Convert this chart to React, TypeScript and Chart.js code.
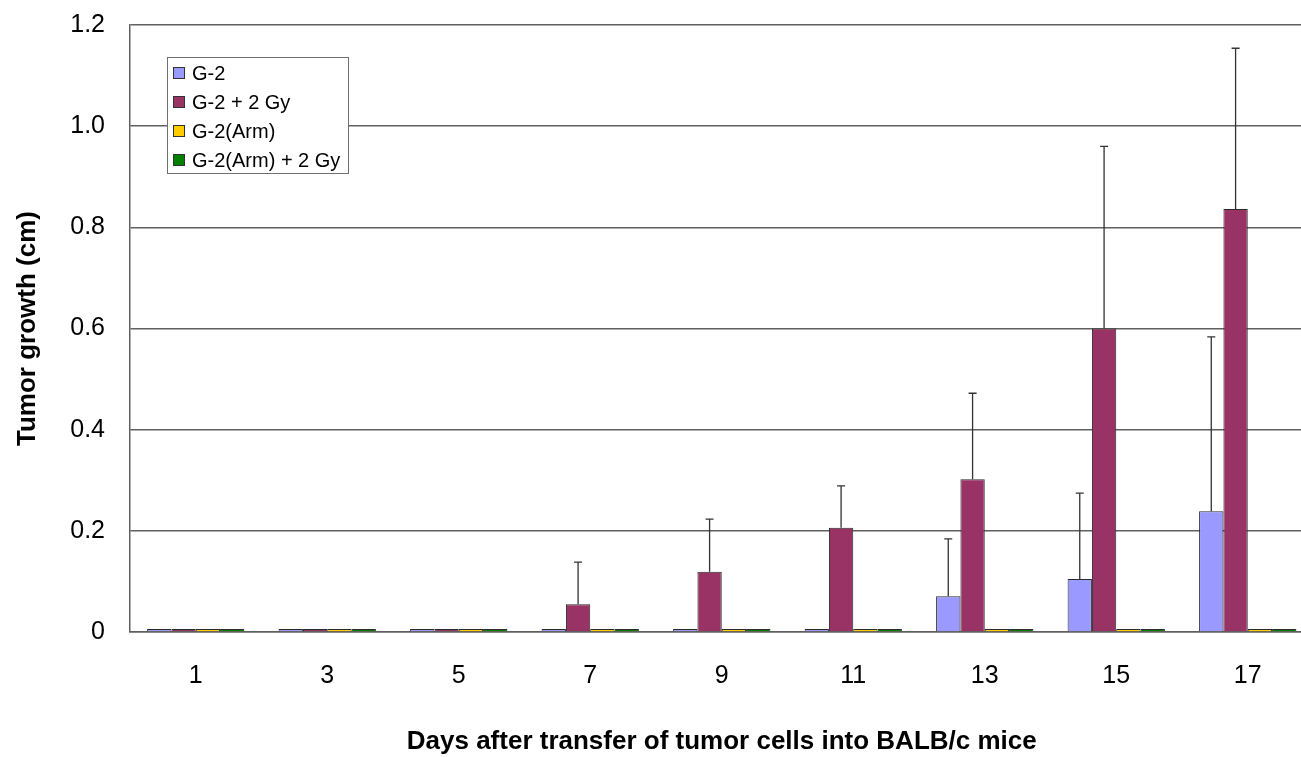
import React, { useEffect, useRef } from "react";
import { Chart, registerables } from "chart.js";

Chart.register(...registerables);

const categories = ["1", "3", "5", "7", "9", "11", "13", "15", "17"];
const seriesNames = ["G-2", "G-2 + 2 Gy", "G-2(Arm)", "G-2(Arm) + 2 Gy"];
const seriesColors = ["#9999FF", "#993366", "#FFCC00", "#008000"];

const g2 = [0.006, 0.006, 0.006, 0.006, 0.006, 0.006, 0.0705, 0.1047, 0.2385];
const g2Gy = [0.006, 0.006, 0.006, 0.055, 0.119, 0.206, 0.302, 0.6, 0.836];
const g2Arm = [0.006, 0.006, 0.006, 0.006, 0.006, 0.006, 0.006, 0.006, 0.006];
const g2ArmGy = [0.006, 0.006, 0.006, 0.006, 0.006, 0.006, 0.006, 0.006, 0.006];

const g2Err = [0, 0, 0, 0, 0, 0, 0.1135, 0.17, 0.345];
const g2GyErr = [0, 0, 0, 0.083, 0.104, 0.083, 0.17, 0.36, 0.318];
const g2ArmErr = [0, 0, 0, 0, 0, 0, 0, 0, 0];
const g2ArmGyErr = [0, 0, 0, 0, 0, 0, 0, 0, 0];

const yTicks = [0, 0.2, 0.4, 0.6, 0.8, 1.0, 1.2];

const FONT = "'Liberation Sans', Arial, Helvetica, sans-serif";

const errorBarPlugin = {
  id: "errorBars",
  afterDatasetsDraw(chart: any) {
    const ctx = chart.ctx;
    const yScale = chart.scales.y;
    ctx.save();
    ctx.strokeStyle = "#333333";
    ctx.lineWidth = 1.3;
    chart.data.datasets.forEach((ds: any, di: number) => {
      const meta = chart.getDatasetMeta(di);
      const errs: number[] = ds.errors || [];
      meta.data.forEach((bar: any, i: number) => {
        const e = errs[i];
        if (!e) return;
        const v = ds.data[i];
        const x = bar.x;
        const yTop = yScale.getPixelForValue(v + e);
        const yBar = yScale.getPixelForValue(v);
        ctx.beginPath();
        ctx.moveTo(x, yBar);
        ctx.lineTo(x, yTop);
        ctx.moveTo(x - 4, yTop);
        ctx.lineTo(x + 4, yTop);
        ctx.stroke();
      });
    });
    ctx.restore();
  },
};

const legendPlugin = {
  id: "boxLegend",
  afterDraw(chart: any) {
    const ctx = chart.ctx;
    ctx.save();
    const bx = 167, by = 57, bw = 181, bh = 116;
    ctx.fillStyle = "#ffffff";
    ctx.fillRect(bx, by, bw, bh);
    ctx.strokeStyle = "#707070";
    ctx.lineWidth = 1;
    ctx.strokeRect(bx + 0.5, by + 0.5, bw, bh);
    ctx.font = `20px ${FONT}`;
    ctx.textBaseline = "middle";
    ctx.textAlign = "left";
    chart.data.datasets.forEach((ds: any, i: number) => {
      const cy = 73 + i * 29;
      ctx.fillStyle = ds.backgroundColor;
      ctx.fillRect(173, cy - 6, 12, 12);
      ctx.strokeStyle = "#333333";
      ctx.strokeRect(173.5, cy - 5.5, 11, 11);
      ctx.fillStyle = "#000000";
      ctx.fillText(ds.label, 192, cy + 1);
    });
    ctx.restore();
  },
};

export default function App() {
  const ref = useRef<HTMLCanvasElement>(null);

  useEffect(() => {
    if (!ref.current) return;
    const values = [g2, g2Gy, g2Arm, g2ArmGy];
    const errors = [g2Err, g2GyErr, g2ArmErr, g2ArmGyErr];
    const chart = new Chart(ref.current, {
      type: "bar",
      data: {
        labels: categories,
        datasets: seriesNames.map((name, i) => ({
          label: name,
          data: values[i],
          errors: errors[i],
          backgroundColor: seriesColors[i],
          borderColor: "#2a2a2a",
          borderWidth: 1,
          categoryPercentage: 0.74,
          barPercentage: 1.0,
        })) as any,
      },
      options: {
        animation: false,
        responsive: false,
        devicePixelRatio: 1,
        layout: { padding: { top: 25, right: 2.5, bottom: 0, left: 0 } },
        plugins: {
          legend: { display: false },
          tooltip: { enabled: false },
        },
        scales: {
          x: {
            grid: { display: false, drawTicks: false },
            border: { display: true, color: "#606060", width: 1.5 },
            ticks: {
              color: "#000",
              font: { family: FONT, size: 25 },
              padding: 29,
              maxRotation: 0,
            },
            title: {
              display: true,
              text: "Days after transfer of tumor cells into BALB/c mice",
              color: "#000",
              font: { family: FONT, size: 26, weight: "bold" },
              padding: { top: 0, bottom: 0 },
            },
            afterFit: (s: any) => {
              s.height = 125;
              s.paddingLeft = 0;
              s.paddingRight = 0;
            },
          },
          y: {
            min: 0,
            max: 1.2,
            afterBuildTicks: (s: any) => {
              s.ticks = yTicks.map((v) => ({ value: v }));
            },
            grid: { color: "#606060", lineWidth: 1.5, drawTicks: false },
            border: { display: true, color: "#606060", width: 1.5 },
            ticks: {
              color: "#000",
              font: { family: FONT, size: 25 },
              padding: 25,
              callback: (v: any) => (Number(v) === 0 ? "0" : Number(v).toFixed(1)),
            },
            title: {
              display: true,
              text: "Tumor growth (cm)",
              color: "#000",
              font: { family: FONT, size: 26, weight: "bold" },
              padding: { top: 12, bottom: 0 },
            },
            afterFit: (s: any) => {
              s.width = 130;
              s.paddingTop = 0;
              s.paddingBottom = 0;
            },
          },
        },
      },
      plugins: [errorBarPlugin, legendPlugin],
    });
    return () => chart.destroy();
  }, []);

  return (
    <div
      style={{
        position: "fixed",
        left: 0,
        top: 0,
        width: 1301,
        height: 757,
        overflow: "hidden",
        background: "#fff",
      }}
    >
      <canvas ref={ref} width={1316} height={757} style={{ display: "block" }} />
    </div>
  );
}
